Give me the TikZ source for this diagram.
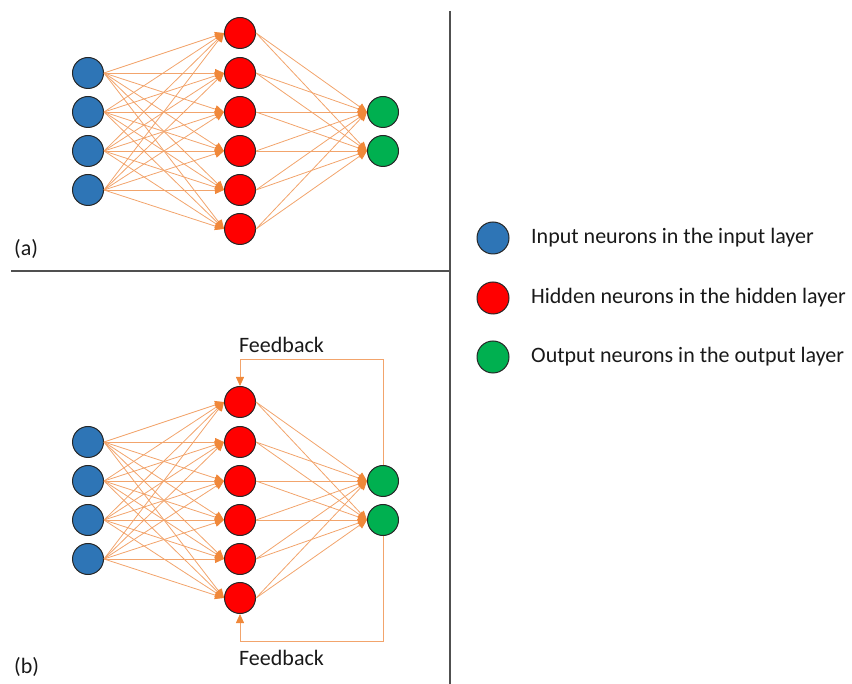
\documentclass[tikz,border=0pt]{standalone}
\usepackage{fontspec}
\setmainfont{Carlito}
\usetikzlibrary{arrows.meta}
\definecolor{inblue}{HTML}{2E75B6}
\definecolor{hidred}{HTML}{FF0000}
\definecolor{outgreen}{HTML}{00B050}
\definecolor{linkorange}{HTML}{F2A46C}
\definecolor{tiporange}{HTML}{F0883A}
\definecolor{frame}{HTML}{505050}
\begin{document}
\begin{tikzpicture}[x=1pt,y=-1pt,
  neuron/.style={circle,draw=black!85,line width=1pt,minimum size=31pt,inner sep=0pt},
  inn/.style={neuron,fill=inblue},
  hid/.style={neuron,fill=hidred},
  outn/.style={neuron,fill=outgreen},
  link/.style={draw=linkorange,line width=0.8pt,-{Triangle[length=9pt,width=8pt,color=tiporange]}},
  label/.style={font=\fontsize{22}{26}\selectfont,text=black!90,inner sep=0pt},
  divider/.style={draw=frame,line width=1.3pt}]
\useasboundingbox (0,0) rectangle (852,684);

% panel dividers
\draw[divider] (450,11) -- (450,684);
\draw[divider] (11,271) -- (450,271);

% two copies of the network: (a) at offset 0, (b) shifted down
\foreach \p/\dy in {a/0,b/369}{
  \begin{scope}[yshift=-\dy pt]
    \foreach \i/\y in {1/73,2/112,3/151,4/190}
      \node[inn] (\p i\i) at (88,\y) {};
    \foreach \j/\y in {1/33,2/73,3/112,4/151,5/190,6/229}
      \node[hid] (\p h\j) at (240,\y) {};
    \foreach \k/\y in {1/112,2/151}
      \node[outn] (\p o\k) at (383,\y) {};
    \foreach \i in {1,...,4}
      \foreach \j in {1,...,6}
        \draw[link] (\p i\i.east) -- (\p h\j.west);
    \foreach \j in {1,...,6}
      \foreach \k in {1,2}
        \draw[link] (\p h\j.east) -- (\p o\k.west);
  \end{scope}
}

\node[label,anchor=west] (tagA) at (14,249) {(a)};
\node[label,anchor=west] (tagB) at (14,667) {(b)};

% feedback loops of network (b)
\coordinate (fbtop) at (383,359);
\coordinate (fbbot) at (383,641);
\draw[link] (bo1.north) -- (fbtop) -| (bh1.north);
\draw[link] (bo2.south) -- (fbbot) -| (bh6.south);
\node[label,anchor=west] (fbtxt1) at (239,345) {Feedback};
\node[label,anchor=west] (fbtxt2) at (239,658) {Feedback};

% legend
\node[inn,minimum size=32pt] (lgin) at (493,238) {};
\node[hid,minimum size=32pt] (lghid) at (493,298) {};
\node[outn,minimum size=32pt] (lgout) at (493,357) {};
\node[label,anchor=west] at (531,238) {Input neurons in the input layer};
\node[label,anchor=west] at (531,298) {Hidden neurons in the hidden layer};
\node[label,anchor=west] at (531,357) {Output neurons in the output layer};
\end{tikzpicture}
\end{document}
